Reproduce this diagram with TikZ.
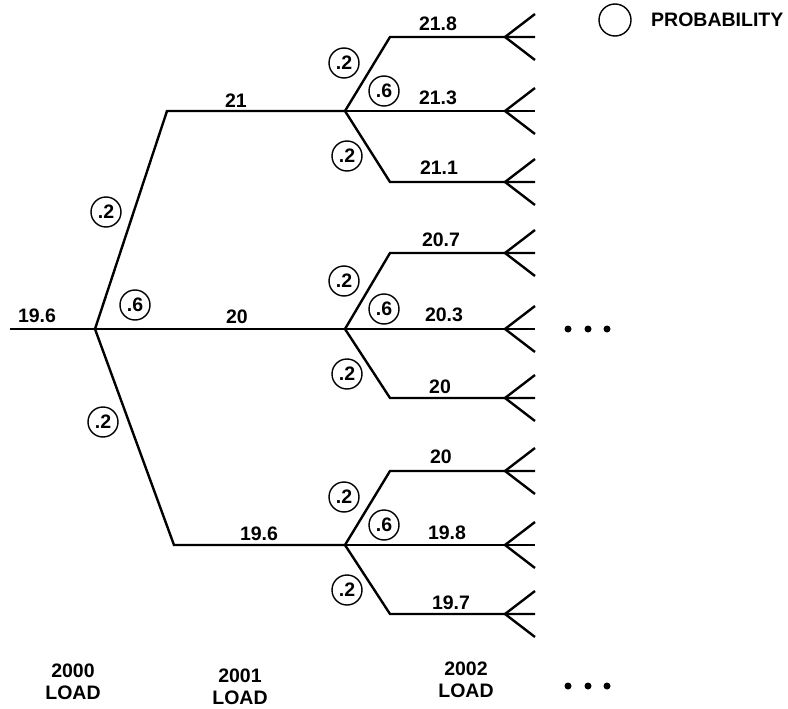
\documentclass[tikz,border=0pt]{standalone}
\usepackage{fontspec}
\setmainfont{Liberation Sans}
\begin{document}
\begin{tikzpicture}[x=1pt,y=-1pt,
  branch/.style={line width=2.4pt, line join=miter},
  val/.style={font=\fontsize{19.5}{21}\selectfont\bfseries, inner sep=0pt},
  prob/.style={draw, circle, line width=1.4pt, minimum size=30pt, inner sep=0pt,
    font=\fontsize{19.5}{21}\selectfont\bfseries},
  enddot/.style={circle, fill, inner sep=0pt, minimum size=7pt},
  yearlbl/.style={font=\fontsize{19.5}{22}\selectfont\bfseries, align=center, inner sep=0pt}]
\useasboundingbox (0,0) rectangle (788,709);

% first stage: 2000 load and its three outcomes
\coordinate (start) at (10,329);
\coordinate (r) at (95,329);
\coordinate (a1) at (167,111);
\coordinate (b1) at (345,111);
\coordinate (b2) at (345,329);
\coordinate (a3) at (174,545);
\coordinate (b3) at (345,545);

\draw[branch] (start) -- (r);
\draw[branch] (r) -- (a1) -- (b1);
\draw[branch] (r) -- (b2);
\draw[branch] (r) -- (a3) -- (b3);

\node[val] (v0) at (37,316) {19.6};
\node[val] (v1) at (236,101) {21};
\node[val] (v2) at (237,317) {20};
\node[val] (v3) at (259,534) {19.6};

\node[prob] (p1) at (106,212) {.2};
\node[prob] (p2) at (135,305) {.6};
\node[prob] (p3) at (103,422) {.2};

% second stage: three outcomes per branch, each ending in a fan
\foreach \g/\yu/\yc/\yd in {1/37/111/182, 2/253/329/398, 3/471/545/614} {
  \coordinate (ku\g) at (390,\yu);
  \coordinate (kd\g) at (390,\yd);
  \coordinate (fu\g) at (505,\yu);
  \coordinate (fc\g) at (505,\yc);
  \coordinate (fd\g) at (505,\yd);
  \coordinate (eu\g) at (535,\yu);
  \coordinate (ec\g) at (535,\yc);
  \coordinate (ed\g) at (535,\yd);
  \draw[branch] (b\g) -- (ku\g) -- (eu\g);
  \draw[branch] (b\g) -- (ec\g);
  \draw[branch] (b\g) -- (kd\g) -- (ed\g);
  \foreach \f in {fu\g, fc\g, fd\g} {
    \draw[branch] (\f) -- ++(30,-23);
    \draw[branch] (\f) -- ++(30,23);
  }
  \node[prob] (pu\g) at (344,\yc-48) {.2};
  \node[prob] (pc\g) at (384,\yc-20) {.6};
  \node[prob] (pd\g) at (347,\yc+45) {.2};
}

\node[val] (w11) at (438,24) {21.8};
\node[val] (w12) at (438,98) {21.3};
\node[val] (w13) at (439,168) {21.1};
\node[val] (w21) at (441,240) {20.7};
\node[val] (w22) at (444,315) {20.3};
\node[val] (w23) at (440,387) {20};
\node[val] (w31) at (441,457) {20};
\node[val] (w32) at (447,533) {19.8};
\node[val] (w33) at (451,603) {19.7};

% continuation marks
\node[enddot] (m1) at (568,329) {};
\node[enddot] (m2) at (588,329) {};
\node[enddot] (m3) at (607,329) {};
\node[enddot] (n1) at (568,686) {};
\node[enddot] (n2) at (588,686) {};
\node[enddot] (n3) at (607,686) {};

% stage captions
\node[yearlbl] (y0) at (73,682) {2000\\LOAD};
\node[yearlbl] (y1) at (240,687) {2001\\LOAD};
\node[yearlbl] (y2) at (466,680) {2002\\LOAD};

% legend
\node[prob, minimum size=32pt] (leg) at (615,20) {};
\node[val, anchor=west] (legtxt) at (651,20) {PROBABILITY};
\end{tikzpicture}
\end{document}
